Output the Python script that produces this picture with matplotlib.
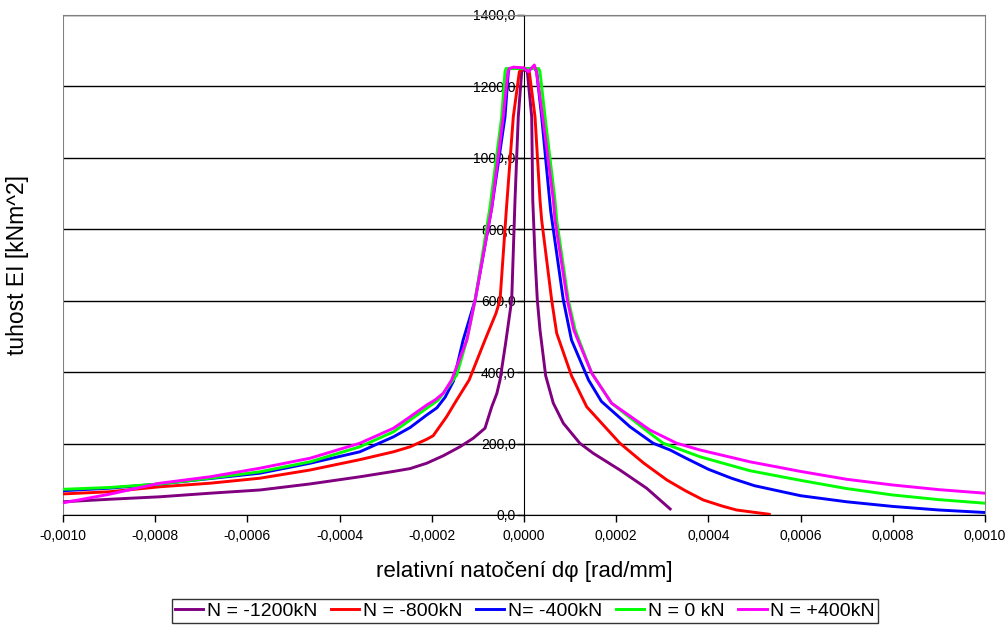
import matplotlib
matplotlib.use('Agg')
import matplotlib.pyplot as plt
from matplotlib.ticker import FuncFormatter

plt.rcParams['font.family'] = ['Liberation Sans', 'DejaVu Sans']

# values (x in rad/mm, y in kNm^2)
x_1200 = [-0.001, -0.0009, -0.00079, -0.000681, -0.000573, -0.000464, -0.000356, -0.000283,
          -0.000247, -0.000211, -0.000175, -0.000139, -0.00011, -0.0000846, -0.00007,
          -0.000059, -0.000052, -0.00004, -0.0000267, -0.0000195, -0.0000124, -0.000005,
          0.0, 0.0000072, 0.0000167, 0.000019, 0.000024, 0.0000289, 0.0000347, 0.000047,
          0.0000636, 0.0000853, 0.000121, 0.00015, 0.000208, 0.000266, 0.000317]
y_1200 = [37, 44, 51, 61, 70, 87, 107, 122,
          130, 145, 166, 191, 215, 243, 303,
          340, 378, 480, 602, 882, 1115, 1241,
          1250, 1241, 1115, 882, 720, 602, 518, 390,
          313, 257, 201, 173, 126, 75, 17]

x_800 = [-0.001, -0.0009, -0.00079, -0.000681, -0.000573, -0.000464, -0.000356, -0.000283,
         -0.000247, -0.000211, -0.000197, -0.000168, -0.000146, -0.000119, -0.0000846,
         -0.0000607, -0.000052, -0.000038, -0.0000232, -0.0000101, 0.0, 0.0000115, 0.0000239,
         0.0000347, 0.0000383, 0.00006, 0.0000709, 0.000103, 0.000136, 0.000208, 0.00026,
         0.00031, 0.00035, 0.000389, 0.00043, 0.000461, 0.000532]
y_800 = [59, 65, 79, 89, 103, 126, 155, 177,
         191, 212, 222, 275, 322, 378, 490,
         565, 602, 860, 1115, 1241, 1252, 1241, 1115,
         882, 826, 602, 509, 390, 303, 201, 145,
         98, 68, 42, 25, 14, 2]

x_400 = [-0.001, -0.0009, -0.00079, -0.000681, -0.000573, -0.000464, -0.000356, -0.000283,
         -0.000247, -0.000211, -0.000189, -0.000171, -0.000153, -0.000132, -0.000106,
         -0.00007, -0.0000412, -0.000034, -0.000032, 0.000024, 0.0000275, 0.0000383,
         0.000052, 0.000058, 0.0000853, 0.000103, 0.00014, 0.000168, 0.00023, 0.00028,
         0.000317, 0.00035, 0.0004, 0.00045, 0.0005, 0.0006, 0.0007, 0.0008, 0.0009, 0.001]
y_400 = [68, 75, 87, 102, 117, 145, 177, 219,
         245, 280, 300, 330, 375, 490, 602,
         860, 1115, 1241, 1250, 1250, 1241, 1115,
         930, 850, 602, 490, 378, 318, 247, 201,
         182, 160, 128, 103, 82, 54, 37, 24, 14, 7]

x_0 = [-0.001, -0.0009, -0.00079, -0.000681, -0.000573, -0.000464, -0.000356, -0.000283,
       -0.000247, -0.000211, -0.000186, -0.000175, -0.000146, -0.000124, -0.000106,
       -0.000074, -0.0000484, -0.0000412, -0.000039, 0.000032, 0.0000347, 0.0000456,
       0.0000672, 0.0000709, 0.0000961, 0.000111, 0.000147, 0.00019, 0.000273, 0.000302,
       0.000382, 0.00049, 0.0006, 0.0007, 0.0008, 0.0009, 0.001]
y_0 = [72, 77, 87, 103, 121, 149, 191, 233,
       266, 299, 322, 341, 392, 490, 602,
       860, 1115, 1241, 1250, 1250, 1241, 1115,
       882, 826, 602, 518, 397, 313, 229, 201,
       163, 124, 97, 74, 56, 43, 33]

x_p400 = [-0.001, -0.0009, -0.00079, -0.000681, -0.000573, -0.000464, -0.000356, -0.000283,
          -0.000247, -0.000211, -0.000193, -0.000175, -0.000157, -0.000124, -0.000106,
          -0.00007, -0.000045, -0.000035, -0.000032, -0.0000232, 0.0, 0.0000094, 0.0000224,
          0.000027, 0.0000405, 0.0000636, 0.0000672, 0.000094, 0.000108, 0.000147, 0.00019,
          0.000273, 0.000331, 0.000382, 0.00049, 0.0006, 0.0007, 0.0008, 0.0009, 0.001]
y_p400 = [34, 58, 89, 107, 131, 159, 201, 243,
          275, 308, 322, 341, 378, 490, 602,
          860, 1115, 1241, 1250, 1254, 1252, 1241, 1260,
          1241, 1115, 882, 826, 602, 518, 397, 313,
          238, 201, 182, 149, 122, 100, 84, 71, 61]

series = [
    (x_1200, y_1200, '#800080', 'N = -1200kN'),
    (x_800, y_800, '#FF0000', 'N = -800kN'),
    (x_400, y_400, '#0000FF', 'N= -400kN'),
    (x_0, y_0, '#00FF00', 'N = 0 kN'),
    (x_p400, y_p400, '#FF00FF', 'N = +400kN'),
]

fig = plt.figure(figsize=(10.07, 6.26), dpi=100)
ax = fig.add_axes([63/1007, 111/626, 922/1007, 500/626])

for xs, ys, c, lab in series:
    ax.plot(xs, ys, color=c, lw=2.1, label=lab, zorder=3, solid_joinstyle='round')

ax.set_xlim(-0.001, 0.001)
ax.set_ylim(0, 1400)
ax.set_xticks([-0.001 + 0.0002*i for i in range(11)])
ax.set_yticks(range(0, 1401, 200))
ax.xaxis.set_major_formatter(FuncFormatter(lambda v, p: ('%.4f' % v).replace('.', ',')))
ax.yaxis.set_major_formatter(FuncFormatter(lambda v, p: ('%.1f' % v).replace('.', ',')))
ax.tick_params(axis='both', direction='out', length=5, width=1, labelsize=10, color='black')
ax.tick_params(axis='y', pad=1)
ax.tick_params(axis='x', pad=5)

ax.grid(axis='y', color='black', lw=1)
ax.set_axisbelow(True)

ax.spines['left'].set_position(('data', 0))
ax.spines['left'].set_color('black')
ax.spines['bottom'].set_color('black')
ax.spines['top'].set_color('#808080')
ax.spines['right'].set_color('#808080')
ax.axvline(-0.001, color='#808080', lw=1.5, zorder=1)

fig.text(524/1007, 1 - 571/626, 'relativní natočení d\u03c6 [rad/mm]', fontsize=16,
         ha='center', va='center')
fig.text(18/1007, 1 - 265/626, 'tuhost EI [kNm^2]', rotation=90, fontsize=16.5,
         ha='center', va='center')

leg = fig.legend(loc='center', bbox_to_anchor=(525/1007, 1 - 611/626), ncol=5,
                 fontsize=14, frameon=True, fancybox=False, edgecolor='black',
                 handlelength=1.45, handletextpad=0.2, columnspacing=0.7,
                 borderpad=0.15, borderaxespad=0)
leg.get_frame().set_linewidth(1)

fig.savefig('out.png', dpi=100)
